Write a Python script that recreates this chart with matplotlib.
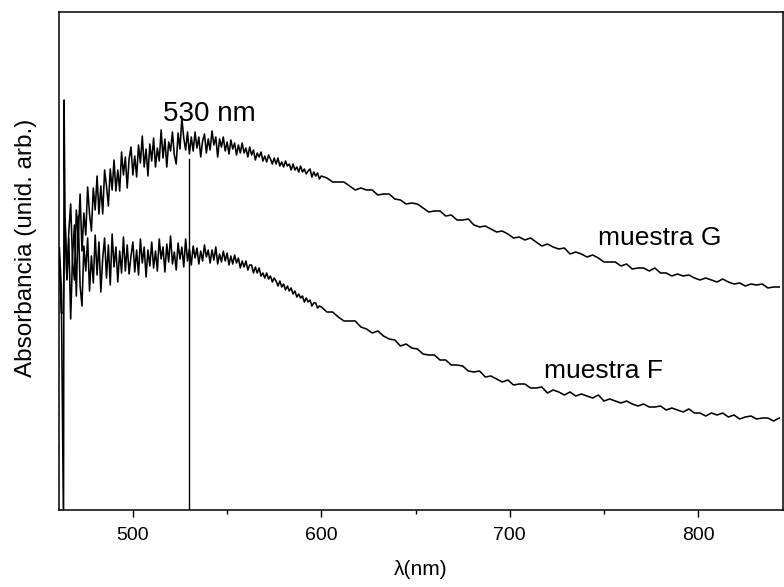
import numpy as np
import matplotlib
matplotlib.use("Agg")
import matplotlib.pyplot as plt

plt.rcParams['font.family'] = ['Liberation Sans', 'DejaVu Sans']

# ---- data (arbitrary absorbance units) ----
wl_G_start = [461.0, 462.0, 463.2, 463.5]
G_start = [300, 262, 20, 448]
wl_G_noisy = np.arange(464, 601)
G_noisy = [330, 268, 316, 344, 286, 268, 338, 311, 354, 297,
           335, 313, 361, 334, 317, 360, 338, 372, 334, 362,
           334, 378, 362, 342, 379, 358, 388, 357, 378, 357,
           396, 373, 391, 360, 389, 401, 373, 392, 371, 403,
           385, 412, 381, 399, 372, 404, 387, 410, 381, 400,
           387, 418, 390, 409, 381, 406, 397, 416, 393, 384,
           415, 399, 430, 410, 398, 416, 394, 411, 397, 416,
           400, 411, 391, 407, 414, 395, 409, 398, 417, 403,
           411, 391, 409, 401, 411, 397, 406, 394, 408, 399,
           405, 393, 403, 395, 405, 395, 400, 391, 401, 393,
           398, 388, 395, 391, 396, 387, 392, 386, 393, 389,
           384, 390, 384, 390, 382, 386, 381, 387, 382, 384,
           378, 384, 378, 381, 376, 382, 376, 379, 374, 377,
           379, 371, 376, 372, 375, 369, 372]
wl_smooth = np.arange(603, 846, 3)
G_smooth = [370, 366, 366, 366, 362, 358, 360, 358, 358, 353,
            354, 354, 349, 348, 344, 345, 344, 340, 336, 337,
            337, 332, 333, 328, 328, 329, 323, 321, 322, 319,
            316, 317, 314, 310, 311, 308, 310, 306, 302, 304,
            301, 299, 300, 294, 296, 294, 291, 293, 290, 286,
            286, 286, 282, 284, 279, 280, 280, 277, 280, 275,
            275, 272, 274, 272, 273, 270, 268, 270, 268, 266,
            269, 266, 264, 265, 262, 264, 263, 264, 260, 261,
            261]

wl_F_start = [461.0, 462.0]
F_start = [290, 235]
wl_F_noisy = np.arange(463, 601)
F_noisy = [235, 330, 269, 309, 229, 293, 323, 252, 332, 262,
           242, 302, 277, 310, 257, 292, 265, 313, 273, 306,
           256, 290, 310, 270, 303, 263, 314, 281, 301, 266,
           297, 275, 311, 277, 303, 274, 292, 306, 276, 298,
           273, 309, 285, 301, 271, 298, 282, 306, 280, 297,
           277, 309, 289, 301, 276, 304, 286, 312, 284, 296,
           278, 305, 289, 301, 281, 309, 287, 299, 283, 302,
           290, 300, 284, 297, 287, 303, 291, 298, 285, 298,
           288, 301, 284, 294, 286, 297, 287, 295, 283, 292,
           284, 293, 285, 290, 280, 287, 281, 287, 278, 283,
           283, 275, 281, 275, 280, 272, 275, 270, 275, 269,
           272, 266, 270, 267, 262, 267, 261, 264, 258, 262,
           257, 260, 254, 257, 251, 254, 250, 252, 246, 250,
           246, 248, 242, 245, 245, 240, 242, 241]
F_smooth = [236, 236, 231, 227, 227, 227, 221, 219, 215, 217,
            212, 209, 208, 202, 204, 200, 199, 194, 193, 193,
            188, 188, 183, 183, 182, 177, 176, 177, 171, 172,
            169, 166, 168, 163, 164, 164, 160, 160, 161, 155,
            158, 156, 153, 156, 152, 154, 152, 150, 153, 147,
            149, 147, 145, 147, 144, 142, 144, 141, 141, 142,
            138, 140, 138, 136, 139, 135, 135, 132, 135, 133,
            135, 131, 133, 129, 131, 132, 129, 130, 130, 127,
            130]

peak_wl = 530
xticks = [500, 600, 700, 800]
xminor = [550, 650, 750]
xlim = (460.8, 845)
ylim = (38, 536)

wl_G = np.concatenate([wl_G_start, wl_G_noisy, wl_smooth])
G = np.concatenate([G_start, G_noisy, G_smooth])
wl_F = np.concatenate([wl_F_start, wl_F_noisy, wl_smooth])
F = np.concatenate([F_start, F_noisy, F_smooth])

fig = plt.figure(figsize=(7.84, 5.87), dpi=100)
ax = fig.add_axes([59/784, 1-510/587, (783-59)/784, (510-12)/587])

ax.plot(wl_G, G, color='black', lw=1.15)
ax.plot(wl_F, F, color='black', lw=1.15)
peak_top = np.interp(peak_wl, wl_G, G)
ax.plot([peak_wl, peak_wl], [ylim[0], peak_top - 5], color='black', lw=1.0)

ax.set_xlim(*xlim)
ax.set_ylim(*ylim)
ax.set_xticks(xticks)
ax.set_xticks(xminor, minor=True)
ax.set_yticks([])
ax.tick_params(axis='x', which='major', direction='out', length=5, width=1, labelsize=14, pad=7)
ax.tick_params(axis='x', which='minor', direction='out', length=3, width=1)
for s in ax.spines.values():
    s.set_linewidth(1.1)

ax.set_xlabel('λ(nm)', fontsize=15, labelpad=12)
ax.set_ylabel('Absorbancia (unid. arb.)', fontsize=17.5)
ax.yaxis.set_label_coords(-0.031, 0.526)

ax.text(516, 427, '530 nm', fontsize=20, ha='left', va='baseline')
ax.text(747, 303, 'muestra G', fontsize=19, ha='left', va='baseline')
ax.text(718, 170, 'muestra F', fontsize=19, ha='left', va='baseline')

fig.savefig('out.png', dpi=100)
